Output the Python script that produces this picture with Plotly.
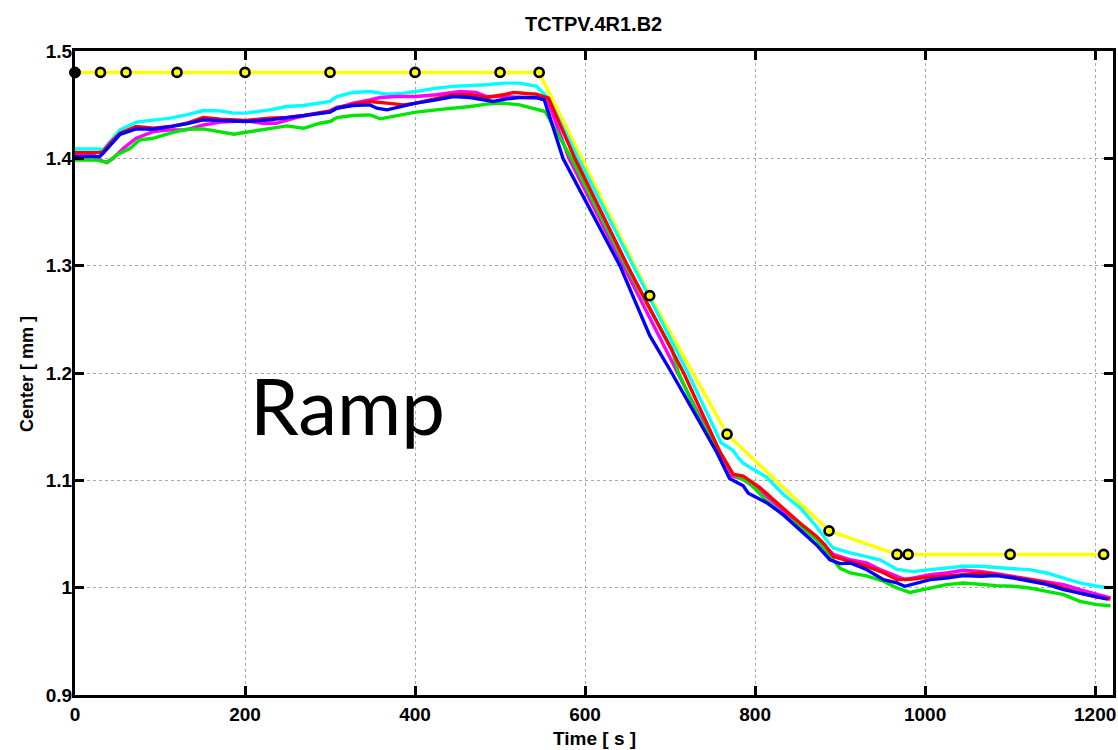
import plotly.graph_objects as go

# Reference (yellow) setting with markers
ref_t = [0, 30, 60, 120, 200, 300, 400, 500, 546, 676, 767, 887, 967, 980, 1100, 1210]
ref_v = [1.48, 1.48, 1.48, 1.48, 1.48, 1.48, 1.48, 1.48, 1.48, 1.272, 1.143, 1.053, 1.031, 1.031, 1.031, 1.031]

cyan_t = [0, 29, 33, 41, 53, 72, 92, 112, 131, 151, 171, 186, 201, 229, 249, 269, 300, 308, 327, 347, 367, 386, 401, 425, 445, 465, 484, 504, 523, 543, 557,
          592, 656, 721, 760, 774, 780, 786, 814, 833, 853, 872, 888, 892, 912, 931, 947, 967, 986, 1006, 1025, 1045, 1065, 1084, 1104, 1123, 1143, 1163, 1182, 1202, 1218]
cyan_v = [1.4087, 1.4087, 1.4078, 1.4156, 1.4265, 1.4337, 1.4358, 1.4374, 1.4405, 1.4445, 1.4442, 1.4421, 1.4421, 1.4452, 1.4483, 1.4492, 1.4530, 1.4576, 1.4614, 1.4623, 1.4598, 1.4607, 1.4623, 1.4654, 1.4670, 1.4677, 1.4685, 1.4701, 1.4701, 1.4670, 1.4560,
          1.4, 1.3, 1.2, 1.135, 1.128, 1.121, 1.116, 1.1025, 1.087, 1.0745, 1.057, 1.040, 1.037, 1.0324, 1.0293, 1.026, 1.017, 1.015, 1.0168, 1.0184, 1.0199, 1.0199, 1.0184, 1.0176, 1.0168, 1.0137, 1.009, 1.0044, 1.0013, 0.9997]

magenta_t = [0, 22, 29, 37, 45, 57, 72, 92, 112, 131, 151, 171, 201, 221, 237, 260, 276, 300, 308, 327, 347, 359, 378, 401, 425, 453, 472, 484, 504, 523, 543, 556,
             581, 645, 709, 770, 786, 814, 853, 872, 892, 912, 931, 947, 967, 976, 1006, 1025, 1045, 1065, 1084, 1104, 1123, 1143, 1163, 1182, 1202, 1218]
magenta_v = [1.4031, 1.4031, 1.3984, 1.3963, 1.4000, 1.4093, 1.4187, 1.4249, 1.4265, 1.4265, 1.4311, 1.4337, 1.4349, 1.4327, 1.4327, 1.4380, 1.4405, 1.4436, 1.4467, 1.4514, 1.4545, 1.4567, 1.4576, 1.4576, 1.4592, 1.4623, 1.4614, 1.4576, 1.4576, 1.4567, 1.4561, 1.4540,
             1.4, 1.3, 1.2, 1.105, 1.101, 1.085, 1.058, 1.047, 1.031, 1.026, 1.023, 1.0168, 1.0106, 1.0075, 1.0121, 1.0137, 1.0162, 1.0152, 1.013, 1.0106, 1.0081, 1.0059, 1.0028, 0.9982, 0.9935, 0.9904]

green_t = [0, 26, 33, 38, 49, 65, 76, 92, 112, 131, 151, 171, 187, 201, 229, 249, 269, 288, 300, 308, 327, 347, 359, 367, 386, 401, 425, 445, 465, 484, 504, 523, 543, 553,
           584, 648, 702, 710, 735, 774, 794, 814, 833, 853, 872, 892, 900, 912, 931, 951, 967, 982, 1006, 1025, 1045, 1065, 1084, 1104, 1123, 1143, 1163, 1182, 1202, 1218]
green_v = [1.3984, 1.3984, 1.3969, 1.3960, 1.4031, 1.4093, 1.4171, 1.4187, 1.4234, 1.4271, 1.4274, 1.4249, 1.4224, 1.4243, 1.4280, 1.4302, 1.4280, 1.4327, 1.4343, 1.4380, 1.4399, 1.4405, 1.4368, 1.4380, 1.4405, 1.4430, 1.4452, 1.4467, 1.4483, 1.4505, 1.4514, 1.4498, 1.4452, 1.4436,
           1.4, 1.3, 1.2224, 1.2, 1.157, 1.1057, 1.097, 1.0806, 1.068, 1.057, 1.045, 1.026, 1.018, 1.0137, 1.011, 1.006, 0.9997, 0.9956, 0.9997, 1.0028, 1.0044, 1.0028, 1.0019, 1.0013, 0.9997, 0.9966, 0.9935, 0.9873, 0.9842, 0.9832]

red_t = [0, 29, 33, 41, 53, 72, 92, 112, 131, 151, 171, 201, 229, 249, 269, 300, 308, 327, 347, 367, 386, 401, 425, 445, 465, 484, 504, 516, 531, 543, 557,
         588, 650, 716, 759, 774, 786, 806, 833, 853, 872, 882, 892, 912, 931, 951, 967, 986, 1006, 1025, 1045, 1065, 1084, 1104, 1123, 1143, 1163, 1182, 1202, 1218]
red_v = [1.4053, 1.4053, 1.4062, 1.4140, 1.4234, 1.4296, 1.4280, 1.4296, 1.4327, 1.4380, 1.4365, 1.4352, 1.4374, 1.4380, 1.4399, 1.4442, 1.4474, 1.4498, 1.4530, 1.4514, 1.4498, 1.4514, 1.4561, 1.4592, 1.4592, 1.4567, 1.4592, 1.4614, 1.4604, 1.4598, 1.4561,
         1.4, 1.3, 1.2, 1.126, 1.1057, 1.104, 1.093, 1.074, 1.060, 1.048, 1.040, 1.029, 1.0246, 1.020, 1.014, 1.0075, 1.0081, 1.010, 1.0106, 1.0121, 1.0137, 1.0121, 1.010, 1.0075, 1.0044, 0.9997, 0.995, 0.9913, 0.9894]

blue_t = [0, 29, 33, 45, 53, 72, 92, 112, 131, 151, 171, 201, 229, 249, 269, 300, 308, 327, 347, 355, 367, 386, 401, 425, 445, 465, 484, 492, 508, 523, 543, 552,
          574, 641, 676, 702, 735, 755, 770, 786, 792, 814, 833, 853, 872, 888, 900, 912, 931, 951, 967, 976, 1006, 1025, 1045, 1065, 1084, 1104, 1123, 1143, 1163, 1182, 1202, 1215]
blue_v = [1.4016, 1.4016, 1.4047, 1.4156, 1.4224, 1.4274, 1.4271, 1.4296, 1.4321, 1.4358, 1.4349, 1.4343, 1.4358, 1.4380, 1.4399, 1.4430, 1.4467, 1.4492, 1.4498, 1.4467, 1.4452, 1.4483, 1.4514, 1.4545, 1.4576, 1.4567, 1.4545, 1.4530, 1.4554, 1.4567, 1.4567, 1.4545,
          1.4, 1.3, 1.235, 1.2, 1.154, 1.126, 1.1016, 1.095, 1.088, 1.079, 1.068, 1.054, 1.040, 1.026, 1.0224, 1.023, 1.017, 1.0075, 1.0044, 1.0013, 1.0075, 1.009, 1.0112, 1.0106, 1.0112, 1.009, 1.006, 1.003, 0.9982, 0.995, 0.9913, 0.9894]

x_ticks = [0, 200, 400, 600, 800, 1000, 1200]
y_ticks = [0.9, 1.0, 1.1, 1.2, 1.3, 1.4, 1.5]
y_ticktext = ["0.9", "1", "1.1", "1.2", "1.3", "1.4", "1.5"]

title_text = "TCTPV.4R1.B2"
x_title = "Time [ s ]"
y_title = "Center [ mm ]"
label_text = "Ramp"

LW = 3.4
fig = go.Figure()
fig.add_trace(go.Scatter(x=ref_t, y=ref_v, mode="lines", line=dict(color="#ffff00", width=3.5),
                         hoverinfo="skip", showlegend=False))
for t, v, c in [(cyan_t, cyan_v, "#00ffff"), (magenta_t, magenta_v, "#ff00ff"),
                (green_t, green_v, "#00e600"), (red_t, red_v, "#ff0000"), (blue_t, blue_v, "#0000ff")]:
    fig.add_trace(go.Scatter(x=t, y=v, mode="lines", line=dict(color=c, width=LW), showlegend=False))

fig.add_trace(go.Scatter(x=ref_t[1:], y=ref_v[1:], mode="markers", cliponaxis=False,
                         marker=dict(symbol="circle", size=9, color="#ffff00",
                                     line=dict(color="black", width=2.7)), showlegend=False))
fig.add_trace(go.Scatter(x=ref_t[:1], y=ref_v[:1], mode="markers", cliponaxis=False,
                         marker=dict(symbol="circle", size=11, color="black",
                                     line=dict(color="black", width=1)), showlegend=False))

font_ax = "Liberation Sans, Arial, sans-serif"
axis_common = dict(showline=True, linecolor="black", linewidth=3, mirror="allticks",
                   ticks="inside", ticklen=9, tickwidth=2.5, tickcolor="black",
                   showgrid=True, gridcolor="#a8a8a8", gridwidth=1, griddash="dot",
                   zeroline=False, automargin=False,
                   tickfont=dict(family=font_ax, size=19, color="black", weight="bold"))

fig.update_layout(
    width=1118, height=750,
    margin=dict(l=75, r=5, t=51, b=55),
    paper_bgcolor="white", plot_bgcolor="white",
    title=dict(text=title_text, x=0.531, xanchor="center", y=0.968, yanchor="middle",
               font=dict(family=font_ax, size=20, color="black", weight="bold")),
    xaxis=dict(range=[0, 1221], tickvals=x_ticks, ticktext=[str(v) for v in x_ticks],
               **axis_common),
    yaxis=dict(range=[0.9, 1.5], tickvals=y_ticks, ticktext=y_ticktext,
               ticklabelstandoff=-4, **axis_common),
    annotations=[
        dict(x=320, y=1.17, xref="x", yref="y", text=label_text, showarrow=False,
             xanchor="center", yanchor="middle",
             font=dict(family="Lato, Noto Sans", size=78, color="black")),
        dict(x=0.5, y=-0.0668, xref="paper", yref="paper", text=x_title, showarrow=False,
             xanchor="center", yanchor="middle",
             font=dict(family=font_ax, size=19, color="black", weight="bold")),
        dict(x=-0.0462, y=0.4984, xref="paper", yref="paper", text=y_title, showarrow=False,
             xanchor="center", yanchor="middle", textangle=-90,
             font=dict(family=font_ax, size=18, color="black", weight="bold")),
    ],
)

fig.write_html("out.html", config={"displayModeBar": False},
               post_script="document.body.style.margin='0';document.body.style.overflow='hidden';")
